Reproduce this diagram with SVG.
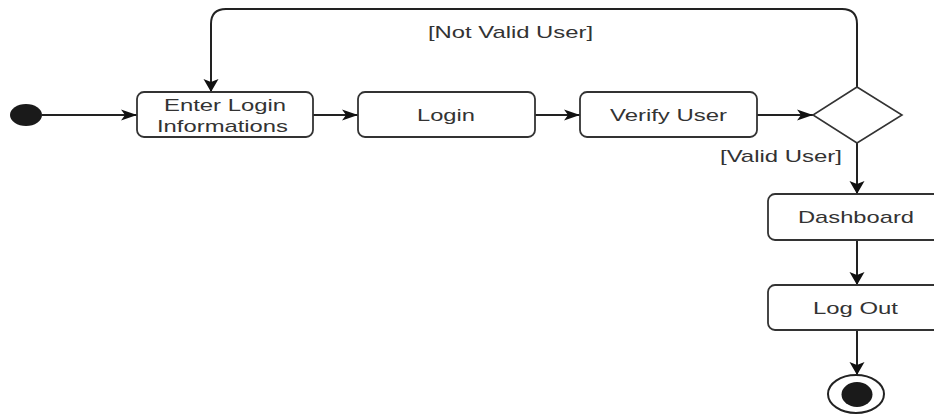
<svg xmlns="http://www.w3.org/2000/svg" width="934" height="415" viewBox="0 0 934 415">
  <style>
    .box { fill: #ffffff; stroke: #333333; stroke-width: 1.8; }
    .edge { fill: none; stroke: #222222; stroke-width: 2; }
    .lbl { font-family: "Liberation Sans", Arial, sans-serif; font-size: 17px; fill: #333333; }
    .mid { text-anchor: middle; dominant-baseline: central; }
  </style>
  <defs>
    <marker id="arrow-h" markerUnits="userSpaceOnUse" markerWidth="18" markerHeight="12" refX="16" refY="6" orient="auto">
      <path d="M0,0.5 L16,6 L0,11.5 L4,6 Z" fill="#111111"/>
    </marker>
    <marker id="arrow-v" markerUnits="userSpaceOnUse" markerWidth="14" markerHeight="16" refX="13" refY="7.5" orient="auto">
      <path d="M0,0 L13,7.5 L0,15 L3,7.5 Z" fill="#111111"/>
    </marker>
  </defs>

  <rect width="934" height="415" fill="#ffffff"/>

  <g id="connectors">
    <line class="edge" x1="42" y1="115" x2="137" y2="115" marker-end="url(#arrow-h)"/>
    <line class="edge" x1="313" y1="115" x2="358" y2="115" marker-end="url(#arrow-h)"/>
    <line class="edge" x1="535" y1="115" x2="580" y2="115" marker-end="url(#arrow-h)"/>
    <line class="edge" x1="757" y1="115" x2="813" y2="115" marker-end="url(#arrow-h)"/>
    <path class="edge" d="M857,87 V24 Q857,9 842,9 H226 Q211,9 211,24 V92" marker-end="url(#arrow-v)"/>
    <line class="edge" x1="857" y1="143" x2="857" y2="194" marker-end="url(#arrow-v)"/>
    <line class="edge" x1="857" y1="240" x2="857" y2="285" marker-end="url(#arrow-v)"/>
    <line class="edge" x1="857" y1="330" x2="857" y2="375" marker-end="url(#arrow-v)"/>
    <text class="lbl mid" x="510.5" y="32" textLength="165" lengthAdjust="spacingAndGlyphs">[Not Valid User]</text>
    <text class="lbl mid" x="781" y="156" textLength="122" lengthAdjust="spacingAndGlyphs">[Valid User]</text>
  </g>

  <g id="start">
    <ellipse cx="26" cy="115" rx="16" ry="11" fill="#1a1a1a"/>
  </g>

  <g id="enter-login">
    <rect class="box" x="137" y="92" width="176" height="45" rx="7"/>
    <text class="lbl mid" x="225" y="105" textLength="122" lengthAdjust="spacingAndGlyphs">Enter Login</text>
    <text class="lbl mid" x="222.5" y="126" textLength="131" lengthAdjust="spacingAndGlyphs">Informations</text>
  </g>

  <g id="login">
    <rect class="box" x="358" y="92" width="177" height="45" rx="7"/>
    <text class="lbl mid" x="446" y="115" textLength="58" lengthAdjust="spacingAndGlyphs">Login</text>
  </g>

  <g id="verify-user">
    <rect class="box" x="580" y="92" width="177" height="45" rx="7"/>
    <text class="lbl mid" x="668.5" y="115" textLength="117" lengthAdjust="spacingAndGlyphs">Verify User</text>
  </g>

  <g id="decision">
    <polygon points="857,87 902,115 857,143 813,115" fill="#ffffff" stroke="#333333" stroke-width="1.6"/>
  </g>

  <g id="dashboard">
    <rect class="box" x="768" y="194" width="176" height="46" rx="7"/>
    <text class="lbl mid" x="856" y="217" textLength="116" lengthAdjust="spacingAndGlyphs">Dashboard</text>
  </g>

  <g id="log-out">
    <rect class="box" x="768" y="285" width="176" height="45" rx="7"/>
    <text class="lbl mid" x="855.5" y="308" textLength="85" lengthAdjust="spacingAndGlyphs">Log Out</text>
  </g>

  <g id="end">
    <ellipse cx="856" cy="394" rx="28" ry="19" fill="#ffffff" stroke="#222222" stroke-width="2"/>
    <ellipse cx="857" cy="394.5" rx="15.5" ry="12.5" fill="#1a1a1a"/>
  </g>
</svg>
